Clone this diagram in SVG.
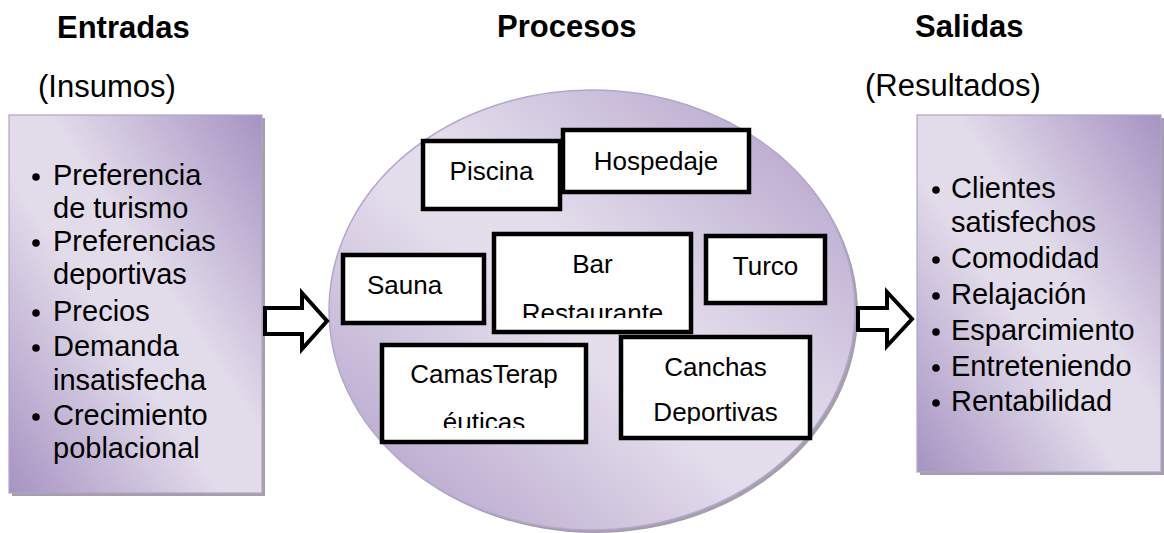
<svg xmlns="http://www.w3.org/2000/svg" width="1164" height="533" viewBox="0 0 1164 533">
<style>
text{font-family:"Liberation Sans",Arial,sans-serif;fill:#000}
.title{font-size:31px;font-weight:bold}
.sub{font-size:31px}
.item{font-size:29px}
.lbl{font-size:26px}
.bx{fill:#fff;stroke:#000;stroke-width:4.5}
.panel{stroke:#b2a2cd;stroke-width:1.2}
.shadow{fill:#a3a0a8}
.arrow{fill:#fff;stroke:#000;stroke-width:4;stroke-linejoin:miter}
.dot{fill:#000}
</style>
<defs>
<linearGradient id="gBox" x1="1" y1="0" x2="0" y2="1">
<stop offset="0" stop-color="#a693c2"/>
<stop offset="0.42" stop-color="#e2dbea"/>
<stop offset="0.58" stop-color="#e2dbea"/>
<stop offset="1" stop-color="#a693c2"/>
</linearGradient>
<linearGradient id="gEll" x1="1" y1="0" x2="0" y2="1">
<stop offset="0" stop-color="#ad9ac6"/>
<stop offset="0.45" stop-color="#e4deec"/>
<stop offset="0.55" stop-color="#e4deec"/>
<stop offset="1" stop-color="#ad9ac6"/>
</linearGradient>
<clipPath id="cBar"><rect x="494" y="234" width="197" height="84"/></clipPath>
<clipPath id="cCamas"><rect x="382" y="345" width="204" height="83"/></clipPath>
<clipPath id="cCanchas"><rect x="621" y="337" width="189" height="87"/></clipPath>
</defs>

<g id="titles">
<text class="title" x="57" y="38">Entradas</text>
<text class="sub" x="38" y="97">(Insumos)</text>
<text class="title" x="497" y="37">Procesos</text>
<text class="title" x="915" y="37">Salidas</text>
<text class="sub" x="865" y="96">(Resultados)</text>
</g>

<g id="entradas">
<rect class="shadow" x="12" y="118" width="253" height="378"/>
<rect class="panel" x="9" y="115" width="253" height="378" fill="url(#gBox)"/>
<circle class="dot" cx="36" cy="177" r="3.8"/>
<text class="item" x="53" y="185">Preferencia</text>
<text class="item" x="53" y="218">de turismo</text>
<circle class="dot" cx="36" cy="243" r="3.8"/>
<text class="item" x="53" y="251">Preferencias</text>
<text class="item" x="53" y="284">deportivas</text>
<circle class="dot" cx="36" cy="313" r="3.8"/>
<text class="item" x="53" y="321">Precios</text>
<circle class="dot" cx="36" cy="348" r="3.8"/>
<text class="item" x="53" y="356">Demanda</text>
<text class="item" x="53" y="390">insatisfecha</text>
<circle class="dot" cx="36" cy="417" r="3.8"/>
<text class="item" x="53" y="425">Crecimiento</text>
<text class="item" x="53" y="458">poblacional</text>
</g>

<g id="procesos">
<ellipse class="shadow" cx="595" cy="313" rx="263" ry="220"/>
<ellipse cx="592" cy="310" rx="263" ry="220" fill="url(#gEll)" stroke="#b5a4cf" stroke-width="1.5"/>
</g>

<g id="piscina">
<rect class="bx" x="423" y="141" width="137" height="68"/>
<text class="lbl" x="491.5" y="180" text-anchor="middle">Piscina</text>
</g>
<g id="hospedaje">
<rect class="bx" x="563" y="130" width="186" height="62"/>
<text class="lbl" x="656" y="170" text-anchor="middle">Hospedaje</text>
</g>
<g id="sauna">
<rect class="bx" x="343" y="255" width="141" height="68"/>
<text class="lbl" x="367" y="294">Sauna</text>
</g>
<g id="bar">
<rect class="bx" x="494" y="234" width="197" height="98"/>
<text class="lbl" x="592.5" y="273" text-anchor="middle">Bar</text>
<text class="lbl" x="592.5" y="322" text-anchor="middle" clip-path="url(#cBar)">Restaurante</text>
</g>
<g id="turco">
<rect class="bx" x="706" y="236" width="119" height="67"/>
<text class="lbl" x="765.5" y="275" text-anchor="middle">Turco</text>
</g>
<g id="camas">
<rect class="bx" x="382" y="345" width="204" height="97"/>
<text class="lbl" x="484" y="383" text-anchor="middle">CamasTerap</text>
<text class="lbl" x="484" y="431" text-anchor="middle" clip-path="url(#cCamas)">éuticas</text>
</g>
<g id="canchas">
<rect class="bx" x="621" y="337" width="189" height="101"/>
<text class="lbl" x="715.5" y="376" text-anchor="middle">Canchas</text>
<text class="lbl" x="715.5" y="421" text-anchor="middle" clip-path="url(#cCanchas)">Deportivas</text>
</g>

<g id="salidas">
<rect class="shadow" x="920" y="118" width="244" height="357"/>
<rect class="panel" x="917" y="115" width="244" height="357" fill="url(#gBox)"/>
<circle class="dot" cx="936" cy="190" r="3.8"/>
<text class="item" x="951" y="198">Clientes</text>
<text class="item" x="951" y="232">satisfechos</text>
<circle class="dot" cx="936" cy="260" r="3.8"/>
<text class="item" x="951" y="268">Comodidad</text>
<circle class="dot" cx="936" cy="296" r="3.8"/>
<text class="item" x="951" y="304">Relajación</text>
<circle class="dot" cx="936" cy="332" r="3.8"/>
<text class="item" x="951" y="340">Esparcimiento</text>
<circle class="dot" cx="936" cy="368" r="3.8"/>
<text class="item" x="951" y="376">Entreteniendo</text>
<circle class="dot" cx="936" cy="403" r="3.8"/>
<text class="item" x="951" y="411">Rentabilidad</text>
</g>

<g id="connectors">
<polygon class="arrow" points="265,308 302,308 302,293 327,321 302,349 302,334 265,334"/>
<polygon class="arrow" points="858,308 887,308 887,292 912,319 887,346 887,330 858,330"/>
</g>
</svg>
